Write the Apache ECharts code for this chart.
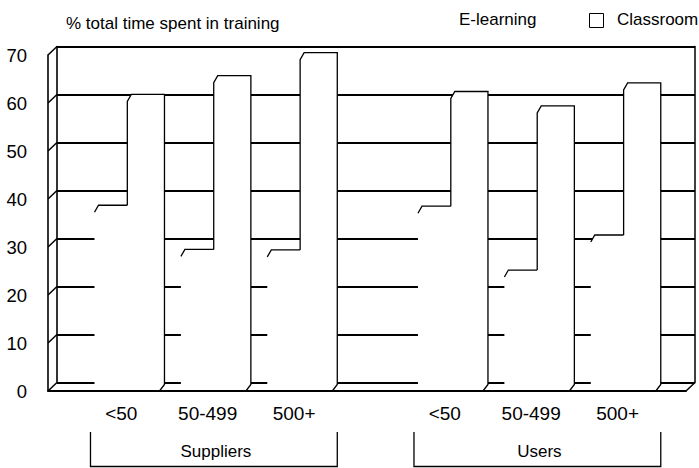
<!DOCTYPE html>
<html>
<head>
<meta charset="utf-8">
<script src="https://cdn.jsdelivr.net/npm/echarts@6/dist/echarts.min.js"></script>
<style>
html,body{margin:0;padding:0;background:#fff;}
#chart{width:699px;height:468px;}
</style>
</head>
<body>
<div id="chart"></div>
<script>
// ---- data ----
const groups = ['Suppliers', 'Users'];
const sizeBands = ['<50', '50-499', '500+'];
const eLearning = [38.7, 29.5, 29.4, 38.5, 25.2, 32.5];
const classroom = [61.8, 65.7, 70.5, 62.4, 59.4, 64.2];
const yTicks = [0, 10, 20, 30, 40, 50, 60, 70];
const titleText = '% total time spent in training';
const seriesNames = ['E-learning', 'Classroom'];

// ---- layout / style constants ----
const FONT = 'Liberation Sans, Arial, sans-serif';
const DX = 9, DY = 8.5;            // 3D depth offset (front -> back wall)
const X_MIN = -0.538, X_MAX = 6.846;
const GROUP_GAP = 0.744;
const E_W = 0.38, C_W = 0.43;
const LINE = '#000';

function slotPos(i) {
  const g = Math.floor(i / sizeBands.length);
  return i + g * GROUP_GAP;
}

const barData = eLearning.map((e, i) => [slotPos(i), e, classroom[i], i]);
const groupData = groups.map((g, gi) => {
  const first = gi * sizeBands.length, last = first + sizeBands.length - 1;
  return [slotPos(first), slotPos(last) + E_W + C_W, gi];
});

function renderBar(params, api) {
  const pos = api.value(0), e = api.value(1), c = api.value(2), idx = api.value(3);
  const pE = api.coord([pos, e]);
  const pC = api.coord([pos + E_W, c]);
  const p0 = api.coord([pos + E_W + C_W, 0]);
  const xl = pE[0], yE = pE[1], xm = pC[0], yC = pC[1], xr = p0[0], y0 = p0[1];
  const bw = 4, bh = 7;
  const slotPx = api.size([1, 0])[0];
  const stroke = { stroke: LINE, lineWidth: 1.3, fill: null };
  return {
    type: 'group',
    children: [
      { type: 'polygon', shape: { points: [[xl, yE + bh], [xl + bw, yE], [xm + 1, yE], [xm + 1, y0 - 1], [xl, y0 - 1]] },
        style: { fill: '#fff' } },
      { type: 'polygon', shape: { points: [[xm, yC + bh], [xm + bw, yC], [xr, yC], [xr, y0 - 1], [xm, y0 - 1]] },
        style: { fill: '#fff' } },
      { type: 'polyline', shape: { points: [[xl, yE + bh], [xl + bw, yE], [xm, yE]] }, style: stroke },
      { type: 'polyline', shape: { points: [[xm, yE], [xm, yC + bh], [xm + bw, yC], [xr, yC], [xr, y0 - DY + 2], [xr - 5, y0]] }, style: stroke },
      { type: 'text', x: xl + slotPx * 0.31, y: 413,
        style: { text: sizeBands[idx % sizeBands.length], textAlign: 'center', textVerticalAlign: 'middle',
                 fontSize: 19, fontFamily: FONT, fill: '#000' } }
    ]
  };
}

function renderGroup(params, api) {
  const a = api.coord([api.value(0), 0]);
  const b = api.coord([api.value(1), 0]);
  const gi = api.value(2);
  const x1 = a[0] - 4, x2 = b[0];
  return {
    type: 'group',
    children: [
      { type: 'polyline', shape: { points: [[x1, 432], [x1, 466.5], [x2, 466.5], [x2, 432]] },
        style: { stroke: LINE, lineWidth: 1.3, fill: null } },
      { type: 'text', x: (x1 + x2) / 2 + 2, y: 451,
        style: { text: groups[gi], textAlign: 'center', textVerticalAlign: 'middle',
                 fontSize: 17, fontFamily: FONT, fill: '#000' } }
    ]
  };
}

function renderFrame(params, api) {
  const v = api.value(0);
  const p = api.coord([X_MIN, v]);
  const children = [
    { type: 'line', shape: { x1: p[0], y1: p[1], x2: p[0] + DX, y2: p[1] - DY },
      style: { stroke: LINE, lineWidth: 1.5 } }
  ];
  if (v === 0) {
    const q = api.coord([X_MAX, 0]);
    children.push({ type: 'line', shape: { x1: q[0], y1: q[1], x2: q[0] + DX, y2: q[1] - DY },
      style: { stroke: LINE, lineWidth: 1.5 } });
  }
  return { type: 'group', children };
}

const chart = echarts.init(document.getElementById('chart'), null, { renderer: 'svg' });
chart.setOption({
  animation: false,
  backgroundColor: '#fff',
  title: {
    text: titleText, left: 61, top: 10,
    textStyle: { fontSize: 17, fontWeight: 'normal', color: '#000', fontFamily: FONT }
  },
  graphic: [
    { type: 'text', left: 459, top: 11, style: { text: seriesNames[0], fontSize: 17, fontFamily: FONT, fill: '#000' } },
    { type: 'rect', left: 589, top: 13, shape: { width: 14, height: 14 }, style: { fill: '#fff', stroke: '#000', lineWidth: 1 } },
    { type: 'text', left: 617, top: 11, style: { text: seriesNames[1], fontSize: 17, fontFamily: FONT, fill: '#000' } }
  ],
  grid: [
    { left: 48 + DX, right: 13 - DX, top: 55 - DY, bottom: 77 + DY },
    { left: 48, right: 13, top: 55, bottom: 77 }
  ],
  xAxis: [
    { type: 'value', gridIndex: 0, min: 0, max: 1, show: false },
    { type: 'value', gridIndex: 1, min: X_MIN, max: X_MAX,
      axisLine: { show: true, onZero: false, lineStyle: { color: LINE, width: 1.8 } },
      axisTick: { show: false }, axisLabel: { show: false }, splitLine: { show: false } }
  ],
  yAxis: [
    { type: 'value', gridIndex: 0, min: 0, max: 70, interval: 10,
      axisLine: { show: true, onZero: false, lineStyle: { color: LINE, width: 1.6 } },
      axisTick: { show: false }, axisLabel: { show: false },
      splitLine: { show: true, lineStyle: { color: LINE, width: 1.9 } } },
    { type: 'value', gridIndex: 0, position: 'right', min: 0, max: 70, interval: 10,
      axisLine: { show: true, onZero: false, lineStyle: { color: LINE, width: 1.5 } },
      axisTick: { show: false }, axisLabel: { show: false }, splitLine: { show: false } },
    { type: 'value', gridIndex: 1, min: 0, max: 70, interval: 10,
      axisLine: { show: true, onZero: false, lineStyle: { color: LINE, width: 1.6 } },
      axisTick: { show: false },
      axisLabel: { show: true, margin: 21, fontSize: 18.5, fontFamily: FONT, color: '#000' },
      splitLine: { show: false } }
  ],
  series: [
    { type: 'custom', name: 'frame', xAxisIndex: 1, yAxisIndex: 2, data: yTicks.map(v => [v]),
      renderItem: renderFrame, clip: false, silent: true, z: 1 },
    { type: 'custom', name: 'bars', xAxisIndex: 1, yAxisIndex: 2, data: barData,
      renderItem: renderBar, clip: false, silent: true, z: 3 },
    { type: 'custom', name: 'groups', xAxisIndex: 1, yAxisIndex: 2, data: groupData,
      renderItem: renderGroup, clip: false, silent: true, z: 3 }
  ]
});
</script>
</body>
</html>
